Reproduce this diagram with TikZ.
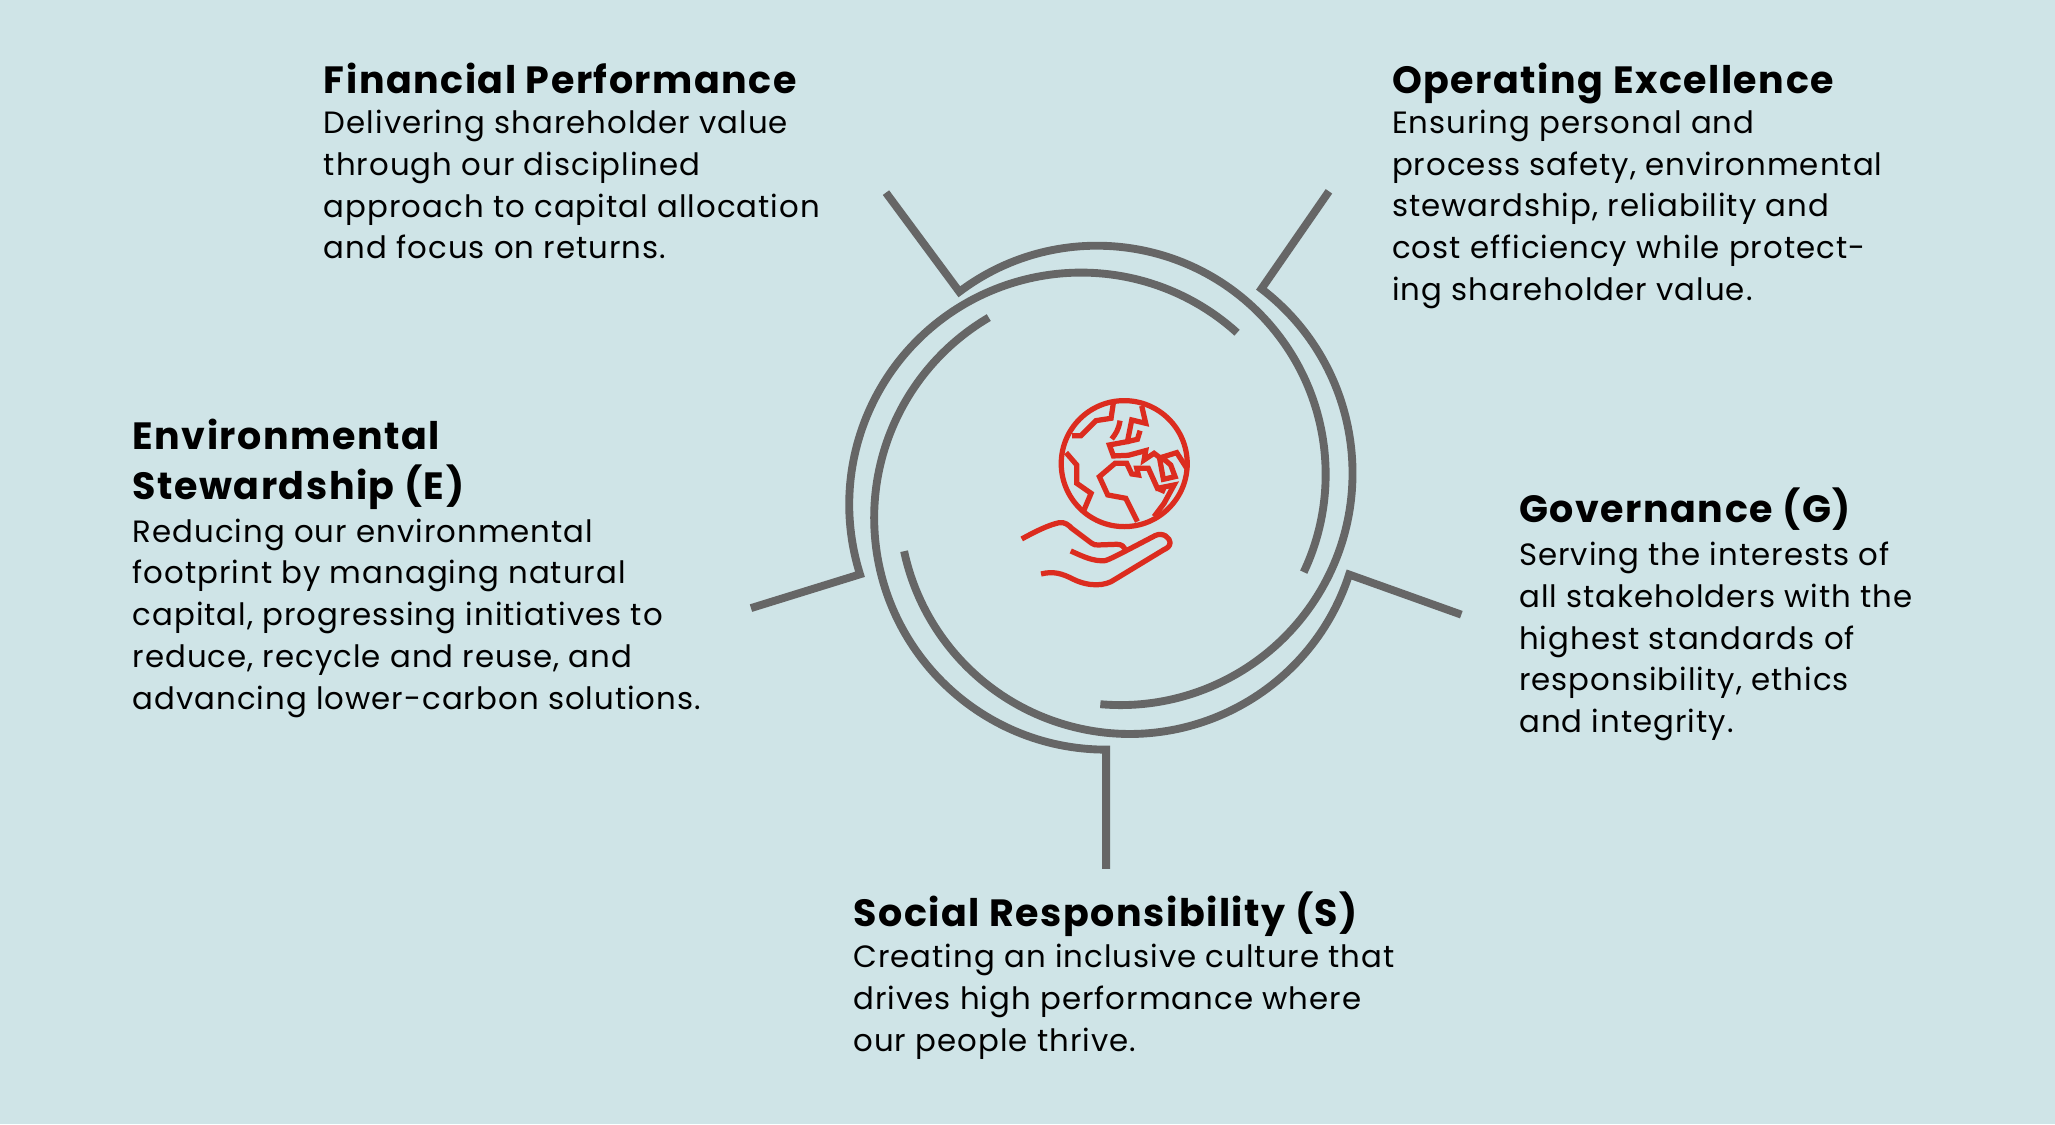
\documentclass[tikz,border=0pt]{standalone}
\usepackage{fontspec}
\usetikzlibrary{calc}
\setmainfont{Poppins}[LetterSpace=3.3,BoldFeatures={LetterSpace=4.0}]
\definecolor{bgc}{HTML}{CFE4E7}
\definecolor{ringc}{HTML}{666666}
\definecolor{redc}{HTML}{DC2C1F}
\tikzset{
  ring/.style={draw=ringc,line width=6pt,miter limit=10,line join=miter},
  globe/.style={draw=redc,line width=4pt,line join=miter},
  titletxt/.style={inner sep=0pt,anchor=base west,text=black,font=\fontsize{29}{38}\selectfont\bfseries,align=left},
  bodytxt/.style={inner sep=0pt,anchor=base west,text=black,font=\fontsize{23.5}{31.8}\selectfont,align=left}
}
\begin{document}
\begin{tikzpicture}[x=1pt,y=1pt]
\useasboundingbox (0,0) rectangle (1568,858);
\fill[bgc] (0,0) rectangle (1568,858);
% centres of the five spiral arcs
\coordinate (cF) at (837,496);
\coordinate (cO) at (855,497);
\coordinate (cE) at (825,473);
\coordinate (cS) at (844,463);
\coordinate (cG) at (862,474);
% free ends and joints
\coordinate (lF) at (676,711);
\coordinate (jF) at ($(cF)+(127:174.5)$);
\coordinate (lO) at (1014,712);
\coordinate (jO) at ($(cO)+(52.6:177)$);
\coordinate (lE) at (573,394);
\coordinate (jE) at ($(cE)+(197.5:177)$);
\coordinate (lS) at (844,195);
\coordinate (jS) at ($(cS)+(270:177)$);
\coordinate (lG) at (1115,389);
\coordinate (jG) at ($(cG)+(-18:176)$);
\draw[ring] (lF) -- (jF) arc[start angle=127,end angle=-25.3,radius=174.5];
\draw[ring] (lO) -- (jO) arc[start angle=52.6,end angle=-95,radius=177];
\draw[ring] (lE) -- (jE) arc[start angle=197.5,end angle=47.8,radius=177];
\draw[ring] (lS) -- (jS) arc[start angle=270,end angle=120.4,radius=177];
\draw[ring] (lG) -- (jG) arc[start angle=-18,end angle=-168,radius=176];
% icon
\begin{scope}[shift={(747.8,575.7)},x=.25434pt,y=-.25434pt]
\draw[globe] (432.5,281) circle[radius=189];
\draw[globe] (400,98)--(393,145)--(348,152)--(303,197)--(276,197);
\draw[globe] (420,152) .. controls (415,180) and (408,190) .. (395,207);
\draw[globe] (485,108)--(497,160)--(455,150)--(442,215)--(388,225)--(400,258)--(445,256)--(497,242)--(492,270)--(522,250)--(538,262)--(550,328)--(585,320)--(572,285)--(545,262)--(590,248)--(622,298);
\draw[globe] (442,215)--(472,208)--(480,182);
\draw[globe] (472,455)--(437,385)--(383,375)--(358,320)--(405,280)--(440,280)--(455,312)--(475,315)--(470,295)--(505,295)--(532,355)--(582,345)--(552,400)--(522,440);
\draw[globe] (532,355)--(555,365);
\draw[globe] (258,248)--(290,285)--(290,340)--(333,370)--(312,420);
\draw[globe,line join=round] (125,507) .. controls (165,485) and (205,465) .. (238,458) .. controls (255,456) and (265,465) .. (275,475) -- (335,520) .. controls (342,525) and (345,525) .. (355,525) -- (410,523) .. controls (425,523) and (432,530) .. (435,537);
\draw[globe,line join=round] (272,543) .. controls (310,560) and (340,575) .. (375,572) .. controls (390,568) and (420,552) .. (525,497) .. controls (550,485) and (570,505) .. (570,518) .. controls (570,530) and (560,535) .. (550,540) -- (405,628) .. controls (375,650) and (325,650) .. (280,628) .. controls (245,610) and (220,603) .. (183,612);
\end{scope}
% labels
\node[titletxt] (tF) at (247,787) {Financial Performance};
\node[bodytxt] (bF) at (247,660.6) {Delivering shareholder value\\through our disciplined\\approach to capital allocation\\and focus on returns.};
\node[titletxt] (tO) at (1062,787) {Operating Excellence};
\node[bodytxt] (bO) at (1062,629) {Ensuring personal and\\process safety, environmental\\stewardship, reliability and\\cost efficiency while protect-\\ing shareholder value.};
\node[titletxt] (tE) at (101,477) {Environmental\\Stewardship (E)};
\node[bodytxt] (bE) at (101,317) {Reducing our environmental\\footprint by managing natural\\capital, progressing initiatives to\\reduce, recycle and reuse, and\\advancing lower-carbon solutions.};
\node[titletxt] (tG) at (1159,459) {Governance (G)};
\node[bodytxt] (bG) at (1159,299) {Serving the interests of\\all stakeholders with the\\highest standards of\\responsibility, ethics\\and integrity.};
\node[titletxt] (tS) at (651,151) {Social Responsibility (S)};
\node[bodytxt] (bS) at (651,56) {Creating an inclusive culture that\\drives high performance where\\our people thrive.};
\end{tikzpicture}
\end{document}
